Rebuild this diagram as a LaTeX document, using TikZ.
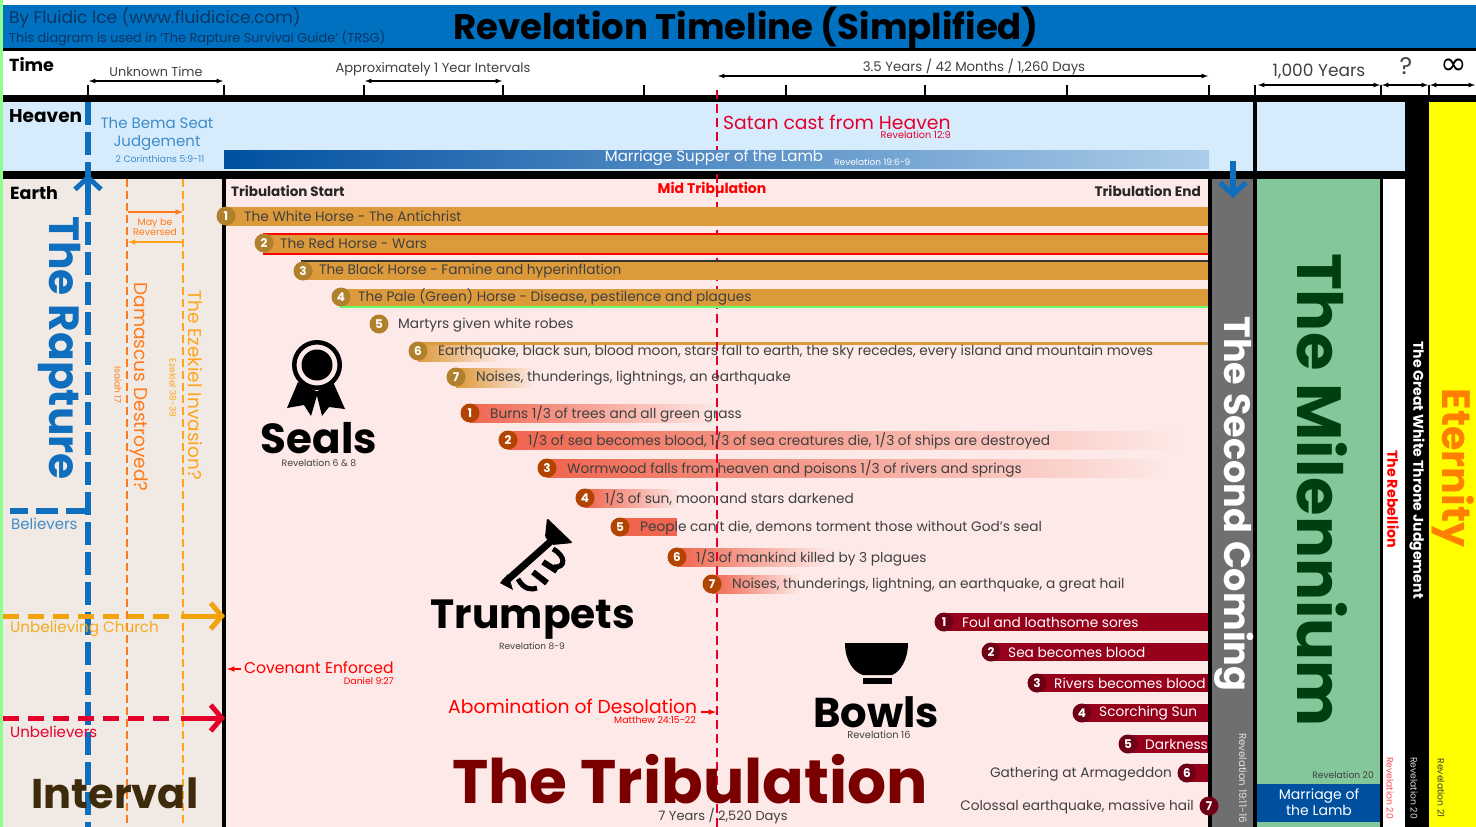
\documentclass[tikz,border=0pt]{standalone}
\usepackage{fontspec}
\setmainfont{Poppins}
\usetikzlibrary{arrows.meta}
\definecolor{hdrblue}{HTML}{0070C0}
\definecolor{hdrtext}{HTML}{0C3563}
\definecolor{skyblue}{HTML}{D6ECFC}
\definecolor{earthtan}{HTML}{F1EAE4}
\definecolor{tribpink}{HTML}{FDE9E7}
\definecolor{comegrey}{HTML}{6F6F6F}
\definecolor{milgreen}{HTML}{83C79B}
\definecolor{mildark}{HTML}{004010}
\definecolor{etyellow}{HTML}{FFFF00}
\definecolor{lambblue}{HTML}{0050A0}
\definecolor{raptblue}{HTML}{0F6FBE}
\definecolor{sealbar}{HTML}{DD9A3B}
\definecolor{sealdot}{HTML}{B0802C}
\definecolor{trumpbar}{HTML}{F0654E}
\definecolor{trumpdot}{HTML}{B24300}
\definecolor{bowlbar}{HTML}{96001A}
\definecolor{bowldot}{HTML}{6E0015}
\definecolor{bigred}{HTML}{7A0000}
\definecolor{midred}{HTML}{E4002B}
\definecolor{unchurch}{HTML}{F0A30A}
\definecolor{damorange}{HTML}{FF7A1A}
\definecolor{ezkorange}{HTML}{FFA41C}
\definecolor{intbrown}{HTML}{3D2B0B}
\newcommand{\fs}[1]{\fontsize{#1}{#1}\selectfont}
\tikzset{
	lbl/.style={anchor=west,inner sep=0pt,yshift=-1pt,text=black!75,font=\fs{13.7}},
	rbl/.style={anchor=east,inner sep=0pt,yshift=-1pt,text=black!75,font=\fs{13.7}},
	mid/.style={inner sep=0pt,align=center},
	rot/.style={inner sep=0pt,rotate=-90},
	badge/.style={circle,inner sep=0pt,minimum size=19pt,text=white,font=\fs{12}\bfseries},
	seal/.style={badge,fill=sealdot},
	trump/.style={badge,fill=trumpdot},
	bowl/.style={badge,fill=bowldot},
	tick/.style={line width=1.6pt},
	span/.style={latex-latex,line width=1.2pt},
	barb/.style={-{Straight Barb[length=11pt,width=26pt,line width=5pt]},line width=5pt},
}
\begin{document}
\begin{tikzpicture}[x=1pt,y=-1pt]
	\useasboundingbox(0,0)rectangle(1476,827);
	\fill[white](0,0)rectangle(1476,827);
	\fill[green!45!white](0,0)rectangle(3,827);
	\fill[hdrblue](3,5)rectangle(1476,48);
	\fill[skyblue](3,102)rectangle(1405,171);
	\fill[earthtan](3,179)rectangle(222,827);
	\fill[tribpink](226,179)rectangle(1209,827);
	\fill[comegrey](1209,179)rectangle(1255,827);
	\fill[milgreen](1257,179)rectangle(1380,827);
	\fill[etyellow](1429,102)rectangle(1476,827);
	\fill[black](3,48)rectangle(1476,51);
	\fill[black](3,95)rectangle(1476,102);
	\fill[black](3,171)rectangle(1405,179);
	\fill[black](222,179)rectangle(226,827);
	\fill[black](1208,179)rectangle(1212,827);
	\fill[black](1253,102)rectangle(1257,827);
	\fill[black](1380,179)rectangle(1383,827);
	\fill[black](1405,102)rectangle(1429,827);

	\fill[left color=sealbar,right color=tribpink](418,342)rectangle(500,361);
	\fill[left color=sealbar,right color=tribpink](456,368)rectangle(535,387);
	\fill[sealbar](418,342)rectangle(1208,345);
	\fill[left color=trumpbar,right color=tribpink](470,404)rectangle(720,422);
	\fill[left color=trumpbar,middle color=trumpbar!70!tribpink,right color=tribpink](508,431)rectangle(1180,449);
	\fill[left color=trumpbar,middle color=trumpbar!70!tribpink,right color=tribpink](547,459)rectangle(1170,477);
	\fill[left color=trumpbar,right color=tribpink](585,489)rectangle(680,507);
	\fill[trumpbar](620,518)rectangle(677,536);
	\fill[left color=trumpbar,right color=tribpink](677,548)rectangle(830,566);
	\fill[left color=trumpbar,right color=tribpink](712,575)rectangle(800,593);

	\coordinate(mt1)at(717,90);
	\coordinate(mt2)at(717,827);
	\draw[midred,line width=2.5pt,dash pattern=on 9pt off 5pt](mt1)--(mt2);

	\fill[left color=lambblue,right color=lambblue!20!skyblue](224,150)rectangle(1209,168);
	\fill[sealbar](226,207)rectangle(1208,226);
	\fill[sealbar](263,234)rectangle(1208,254);
	\fill[red](263,233)rectangle(1208,235);
	\fill[red](263,253)rectangle(1208,255);
	\fill[sealbar](301,261)rectangle(1208,280);
	\fill[black!80](301,260)rectangle(1208,262);
	\fill[sealbar](340,289)rectangle(1208,307);
	\fill[green!60!white](340,306)rectangle(1208,308);
	\fill[bowlbar](944,613)rectangle(1208,631);
	\fill[bowlbar](991,643)rectangle(1208,661);
	\fill[bowlbar](1037,674)rectangle(1208,692);
	\fill[bowlbar](1082,704)rectangle(1208,722);
	\fill[bowlbar](1128,735)rectangle(1208,753);
	\fill[bowlbar](1187,764)rectangle(1208,782);

	\coordinate(tk1)at(88,85);\coordinate(tb1)at(88,95);
	\coordinate(tk2)at(224,85);\coordinate(tb2)at(224,95);
	\coordinate(tk3)at(364,85);\coordinate(tb3)at(364,95);
	\coordinate(tk4)at(503,85);\coordinate(tb4)at(503,95);
	\coordinate(tk5)at(644,85);\coordinate(tb5)at(644,95);
	\coordinate(tk6)at(786,85);\coordinate(tb6)at(786,95);
	\coordinate(tk7)at(925,85);\coordinate(tb7)at(925,95);
	\coordinate(tk8)at(1067,85);\coordinate(tb8)at(1067,95);
	\coordinate(tk9)at(1209,85);\coordinate(tb9)at(1209,95);
	\coordinate(tk10)at(1255,85);\coordinate(tb10)at(1255,95);
	\coordinate(tk11)at(1381,85);\coordinate(tb11)at(1381,95);
	\coordinate(tk12)at(1429,85);\coordinate(tb12)at(1429,95);
	\path[tick](tk1)edge(tb1)(tk2)edge(tb2)(tk3)edge(tb3)(tk4)edge(tb4)(tk5)edge(tb5)(tk6)edge(tb6);
	\path[tick](tk7)edge(tb7)(tk8)edge(tb8)(tk9)edge(tb9)(tk10)edge(tb10)(tk11)edge(tb11)(tk12)edge(tb12);

	\coordinate(un1)at(89,81);\coordinate(un2)at(223,81);
	\coordinate(yr1)at(365,81);\coordinate(yr2)at(502,81);
	\coordinate(dy1)at(718,76);\coordinate(dy2)at(1208,76);
	\coordinate(ky1)at(1258,85);\coordinate(ky2)at(1380,85);
	\coordinate(qm1)at(1382,85);\coordinate(qm2)at(1428,85);
	\coordinate(in1)at(1430,85);\coordinate(in2)at(1475,85);
	\path[span](un1)edge(un2)(yr1)edge(yr2)(dy1)edge(dy2)(ky1)edge(ky2)(qm1)edge(qm2)(in1)edge(in2);

	\coordinate(ra1)at(88,102);\coordinate(ra2)at(88,827);
	\coordinate(ra3)at(88,174);\coordinate(ra4)at(88,200);
	\coordinate(ra5)at(88,511);\coordinate(ra6)at(10,511);
	\coordinate(sc1)at(1233,161);\coordinate(sc2)at(1233,198);
	\draw[raptblue,line width=6pt,dash pattern=on 23pt off 7pt](ra1)--(ra2);
	\draw[raptblue,line width=6pt,dash pattern=on 22pt off 8pt](ra5)--(ra6);
	\draw[raptblue,line width=6pt,-{Straight Barb[length=12pt,width=26pt,line width=5pt]}](ra4)--(ra3);
	\draw[raptblue,line width=6pt,-{Straight Barb[length=12pt,width=26pt,line width=5pt]}](sc1)--(sc2);

	\coordinate(dm1)at(127,179);\coordinate(dm2)at(127,827);
	\coordinate(ez1)at(183,179);\coordinate(ez2)at(183,827);
	\draw[damorange,line width=2.5pt,dash pattern=on 8pt off 4pt](dm1)--(dm2);
	\draw[ezkorange,line width=2.5pt,dash pattern=on 8pt off 4pt](ez1)--(ez2);
	\coordinate(ma1)at(128,212);\coordinate(ma2)at(183,212);
	\coordinate(mb1)at(183,242);\coordinate(mb2)at(128,242);
	\path[-latex,damorange,line width=1.5pt](ma1)edge(ma2);
	\path[-latex,ezkorange,line width=1.5pt](mb1)edge(mb2);

	\coordinate(uc1)at(3,616);\coordinate(uc2)at(172,616);\coordinate(uc3)at(181,616);\coordinate(uc4)at(225,616);
	\coordinate(ub1)at(3,718);\coordinate(ub2)at(172,718);\coordinate(ub3)at(181,718);\coordinate(ub4)at(225,718);
	\draw[unchurch,line width=5pt,dash pattern=on 16pt off 9pt](uc1)--(uc2);
	\draw[unchurch,barb](uc3)--(uc4);
	\draw[midred,line width=5pt,dash pattern=on 16pt off 9pt](ub1)--(ub2);
	\draw[midred,barb](ub3)--(ub4);

	\coordinate(ce1)at(241,669);\coordinate(ce2)at(227,669);
	\path[-latex,red,line width=1.5pt](ce1)edge(ce2);
	\coordinate(ab1)at(701,712);\coordinate(ab2)at(716,712);
	\path[-latex,red,line width=1.5pt](ab1)edge(ab2);

	\fill[black,even odd rule](317,365)circle[radius=25](317,365)circle[radius=20.5];
	\fill[black](317,365)circle[radius=15.5];
	\fill[black](298,382)--(287,408)--(304,405)--(311,416)--(318,392)--cycle;
	\fill[black](333,382)--(345,409)--(329,407)--(322,416)--(316,392)--cycle;

	\fill[black,rounded corners=1.5pt](547,518)--(573,543)--(552,545)--(545,537)--cycle;
	\draw[black,line width=7pt](550,542)--(504,583);
	\fill[black](500,583)--(508,574)--(513,590)--cycle;
	\draw[black,line width=5pt](553,549)..controls(566,556)and(566,568)..(554,567);
	\draw[black,line width=5pt](518,579)..controls(524,590)and(532,590)..(537,588);
	\draw[black,line width=6pt](543,562)--(557,571);
	\draw[black,line width=6pt](533,572)--(547,583);

	\fill[black](845,643)--(908,643)..controls(908,660)and(900,672)..(892,675)--(863,675)..controls(853,672)and(845,660)..(845,643)--cycle;
	\fill[black](863,678)rectangle(892,684);

	\fill[lambblue](1257,784)rectangle(1380,822);

	\node[lbl,font=\fs{17},text=hdrtext] at (9,17)(by){By Fluidic Ice (www.fluidicice.com)};
	\node[lbl,font=\fs{12.85},text=hdrtext] at (9,37)(tr){This diagram is used in `The Rapture Survival Guide' (TRSG)};
	\node[mid,font=\fs{35.5}\bfseries] at (746,28)(title){Revelation Timeline (Simplified)};
	\node[lbl,font=\fs{17.5}\bfseries,text=black] at (9,64)(time){Time};
	\node[lbl,font=\fs{18.5}\bfseries,text=black] at (9,115)(heaven){Heaven};
	\node[lbl,font=\fs{17.5}\bfseries,text=black] at (10,192)(earth){Earth};
	\node[mid,font=\fs{12.8},text=black!75] at (156,72)(unk){Unknown Time};
	\node[mid,font=\fs{13.1},text=black!75] at (433,69)(appx){Approximately 1 Year Intervals};
	\node[mid,font=\fs{13.3},text=black!75] at (974,67)(three){3.5 Years / 42 Months / 1,260 Days};
	\node[mid,font=\fs{17},text=black!75] at (1319,71)(mil){1,000 Years};
	\node[mid,font=\fs{24},text=black!75] at (1406,66)(qm){?};
	\node[mid,font=\fs{32},text=black] at (1454,67)(inf){\fontspec{DejaVu Sans}∞};

	\node[mid,font=\fs{15},text=raptblue!80!white] at (157,134)(bema){The Bema Seat\\[3pt]Judgement};
	\node[mid,font=\fs{9.3},text=raptblue!80!white] at (160,159)(cor){2 Corinthians 5:9-11};
	\node[lbl,font=\fs{18.8},text=midred] at (723,121)(satan){Satan cast from Heaven};
	\node[rbl,font=\fs{9.7},text=midred] at (951,134)(rv12){Revelation 12:9};
	\node[mid,font=\fs{15},text=white!90!skyblue] at (714,158)(supper){Marriage Supper of the Lamb};
	\node[lbl,font=\fs{9},text=white!90!skyblue] at (834,161)(rv19){Revelation 19:6-9};

	\node[lbl,font=\fs{13.5}\bfseries,text=black!85] at (231,190)(tstart){Tribulation Start};
	\node[mid,font=\fs{14}\bfseries,text=red] at (712,188)(tmid){Mid Tribulation};
	\node[rbl,font=\fs{13.7}\bfseries,text=black!85] at (1201,190)(tend){Tribulation End};

	\node[seal] at (226,216)(s1){1};
	\node[lbl] at (244,215)(st1){The White Horse - The Antichrist};
	\node[seal] at (264,243)(s2){2};
	\node[lbl] at (280,242)(st2){The Red Horse - Wars};
	\node[seal] at (303,271)(s3){3};
	\node[lbl] at (319,270)(st3){The Black Horse - Famine and hyperinflation};
	\node[seal] at (341,297)(s4){4};
	\node[lbl] at (358,296)(st4){The Pale (Green) Horse - Disease, pestilence and plagues};
	\node[seal] at (379,324)(s5){5};
	\node[lbl] at (398,324)(st5){Martyrs given white robes};
	\node[seal] at (418,351)(s6){6};
	\node[lbl] at (438,351)(st6){Earthquake, black sun, blood moon, stars fall to earth, the sky recedes, every island and mountain moves};
	\node[seal] at (456,377)(s7){7};
	\node[lbl] at (476,377)(st7){Noises, thunderings, lightnings, an earthquake};

	\node[trump] at (470,413)(t1){1};
	\node[lbl] at (490,413)(tt1){Burns 1/3 of trees and all green grass};
	\node[trump] at (508,440)(t2){2};
	\node[lbl] at (528,440)(tt2){1/3 of sea becomes blood, 1/3 of sea creatures die, 1/3 of ships are destroyed};
	\node[trump] at (547,468)(t3){3};
	\node[lbl] at (567,468)(tt3){Wormwood falls from heaven and poisons 1/3 of rivers and springs};
	\node[trump] at (585,498)(t4){4};
	\node[lbl] at (605,497)(tt4){1/3 of sun, moon and stars darkened};
	\node[trump] at (620,527)(t5){5};
	\node[lbl] at (640,527)(tt5){People can't die, demons torment those without God's seal};
	\node[trump] at (677,557)(t6){6};
	\node[lbl] at (696,557)(tt6){1/3 of mankind killed by 3 plagues};
	\node[trump] at (712,584)(t7){7};
	\node[lbl] at (732,584)(tt7){Noises, thunderings, lightning, an earthquake, a great hail};

	\node[bowl] at (944,622)(b1){1};
	\node[lbl,text=white] at (962,621)(bt1){Foul and loathsome sores};
	\node[bowl] at (991,652)(b2){2};
	\node[lbl,text=white] at (1008,651)(bt2){Sea becomes blood};
	\node[bowl] at (1037,683)(b3){3};
	\node[lbl,text=white] at (1054,682)(bt3){Rivers becomes blood};
	\node[bowl] at (1082,713)(b4){4};
	\node[lbl,text=white] at (1099,712)(bt4){Scorching Sun};
	\node[bowl] at (1128,744)(b5){5};
	\node[lbl,text=white] at (1145,743)(bt5){Darkness};
	\node[bowl] at (1187,773)(b6){6};
	\node[rbl] at (1172,773)(bt6){Gathering at Armageddon};
	\node[bowl] at (1209,806)(b7){7};
	\node[rbl] at (1194,806)(bt7){Colossal earthquake, massive hail};

	\node[mid,font=\fs{42}\bfseries] at (319,438)(seals){Seals};
	\node[mid,font=\fs{9.3},text=black!75] at (319,463)(rv68){Revelation 6 \& 8};
	\node[mid,font=\fs{40.8}\bfseries] at (533,620)(trumpets){Trumpets};
	\node[mid,font=\fs{9},text=black!75] at (532,646)(rv89){Revelation 8-9};
	\node[mid,font=\fs{41.7}\bfseries] at (876,712)(bowls){Bowls};
	\node[mid,font=\fs{9.8},text=black!75] at (879,735)(rv16){Revelation 16};
	\node[mid,font=\fs{61.4}\bfseries,text=bigred] at (690,779)(trib){The Tribulation};
	\node[mid,font=\fs{13},text=black!75] at (723,816)(seven){7 Years / 2,520 Days};
	\node[mid,font=\fs{41.5}\bfseries,text=intbrown] at (115,793)(interval){Interval};

	\node[lbl,font=\fs{15.2},text=unchurch!90!white] at (10,628)(uct){Unbelieving Church};
	\node[lbl,font=\fs{15},text=midred] at (10,731)(ubt){Unbelievers};
	\node[lbl,font=\fs{15},text=raptblue!80!white] at (11,523)(blv){Believers};
	\node[lbl,font=\fs{15.6},text=red] at (244,667)(cov){Covenant Enforced};
	\node[rbl,font=\fs{9.3},text=red] at (394,680)(dan){Daniel 9:27};
	\node[lbl,font=\fs{18.75},text=red] at (448,705)(abom){Abomination of Desolation};
	\node[rbl,font=\fs{9.4},text=red] at (696,719)(mat){Matthew 24:15-22};
	\node[mid,font=\fs{9.5},text=damorange] at (155,227)(may){May be\\[1pt]Reversed};

	\node[rot,font=\fs{42.3}\bfseries,text=raptblue] at (60,348)(rapture){The Rapture};
	\node[rot,font=\fs{18.6},text=damorange] at (139,387)(dam){Damascus Destroyed?};
	\node[rot,font=\fs{9},text=damorange] at (118,385)(isa){Isaiah 17};
	\node[rot,font=\fs{18.5},text=ezkorange] at (195,385)(ezk){The Ezekiel Invasion?};
	\node[rot,font=\fs{9},text=ezkorange] at (173,388)(ezr){Ezekiel 38-39};

	\node[rot,font=\fs{36.6}\bfseries,text=white] at (1234,504)(second){The Second Coming};
	\node[rot,font=\fs{10.2},text=white!80!comegrey] at (1243,778)(rv191){Revelation 19:11-16};
	\node[rot,font=\fs{62.4}\bfseries,text=mildark] at (1322,490)(milen){The Milennium};
	\node[rbl,font=\fs{9.2},text=black!75] at (1374,774)(rv20a){Revelation 20};
	\node[mid,font=\fs{14},text=white] at (1319,802)(lamb){Marriage of\\[1pt]the Lamb};
	\node[rot,font=\fs{14.3}\bfseries,text=red] at (1393,499)(rebel){The Rebellion};
	\node[rot,font=\fs{9.2},text=red!70!white] at (1390,788)(rv20b){Revelation 20};
	\node[rot,font=\fs{14.1}\bfseries,text=white] at (1417,470)(throne){The Great White Throne Judgement};
	\node[rot,font=\fs{9.2},text=white!85!black] at (1414,788)(rv20c){Revelation 20};
	\node[rot,font=\fs{39.6}\bfseries,text=orange] at (1453,468)(eternity){Eternity};
	\node[rot,font=\fs{9.2},text=black!75] at (1441,788)(rv21){Revelation 21};
\end{tikzpicture}
\end{document}
